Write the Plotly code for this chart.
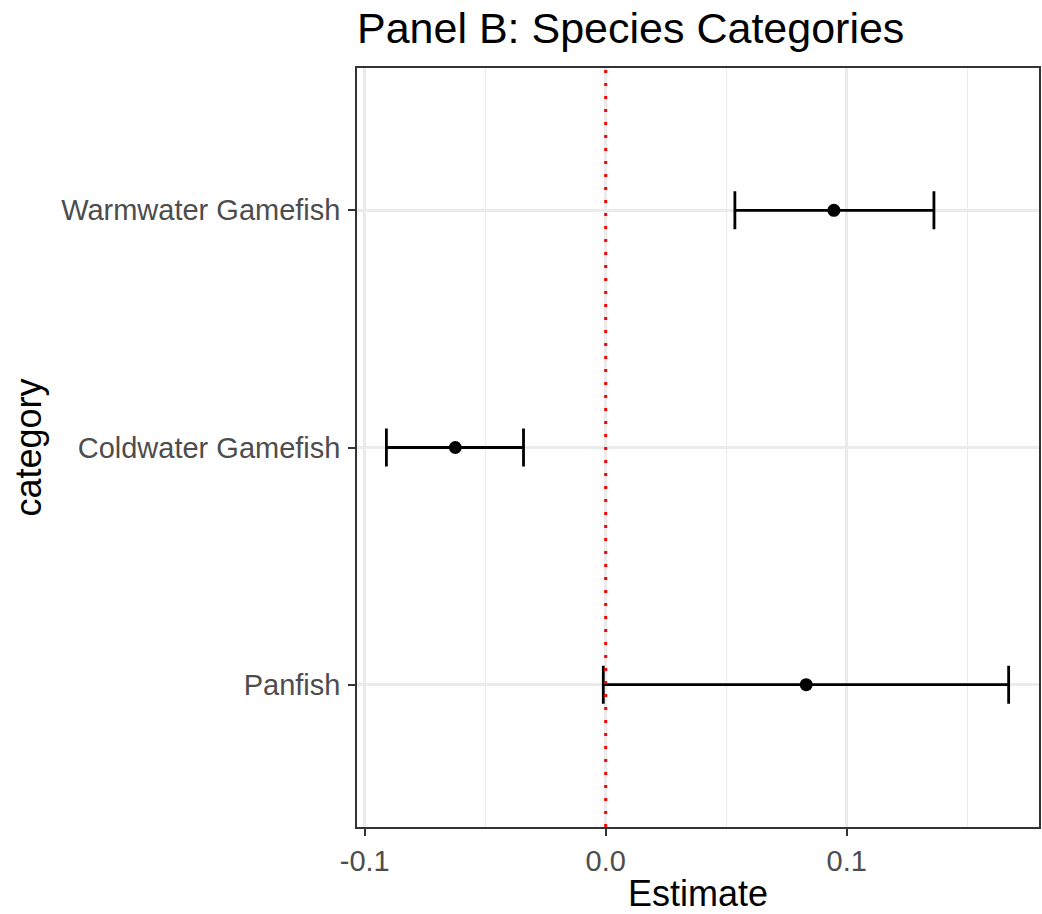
import plotly.graph_objects as go

categories = ["Panfish", "Coldwater Gamefish", "Warmwater Gamefish"]
estimates = [0.0832, -0.0624, 0.0947]
ci_low = [-0.0010, -0.0910, 0.0536]
ci_high = [0.1672, -0.0341, 0.1362]

x_ticks = [-0.1, 0.0, 0.1]
x_tick_labels = ["-0.1", "0.0", "0.1"]
x_minor = [-0.05, 0.05, 0.15]

ypos = list(range(1, len(categories) + 1))
err_plus = [h - e for h, e in zip(ci_high, estimates)]
err_minus = [e - l for e, l in zip(estimates, ci_low)]

fig = go.Figure()
fig.add_trace(go.Scatter(
    x=estimates, y=ypos, mode="markers",
    marker=dict(color="black", size=13),
    error_x=dict(type="data", symmetric=False, array=err_plus, arrayminus=err_minus,
                 color="black", thickness=2.8, width=19),
    showlegend=False, hoverinfo="x+y",
))

fig.add_shape(type="line", xref="x", yref="paper", x0=0, x1=0, y0=0, y1=1,
              line=dict(color="red", width=3, dash="3px,10px"))

axis_font = dict(family="Liberation Sans, Arial, sans-serif", size=29, color="#4d4d4d")
title_font = dict(family="Liberation Sans, Arial, sans-serif", size=36, color="black")

fig.update_layout(
    width=1042, height=914,
    margin=dict(l=357, r=1, t=68, b=87),
    plot_bgcolor="white", paper_bgcolor="white",
    title=dict(text="Panel B: Species Categories", x=357/1042, xanchor="left",
               y=1 - 28/914, yanchor="middle", yref="container",
               font=dict(family="Liberation Sans, Arial, sans-serif", size=43, color="black")),
    xaxis=dict(
        range=[-0.1032, 0.1798], tickvals=x_ticks, ticktext=x_tick_labels,
        showgrid=True, gridcolor="#ebebeb", gridwidth=2.5,
        minor=dict(tickvals=x_minor, showgrid=True, gridcolor="#ebebeb", gridwidth=1.2, ticks=""),
        zeroline=False, showline=True, mirror=True, linecolor="#333333", linewidth=1.5,
        ticks="outside", ticklen=7, tickwidth=1.5, tickcolor="#333333",
        tickfont=axis_font,
        title=dict(text="Estimate", font=title_font, standoff=10),
    ),
    yaxis=dict(
        range=[0.4, 3.6], tickvals=ypos, ticktext=categories,
        showgrid=True, gridcolor="#ebebeb", gridwidth=2.5,
        zeroline=False, showline=True, mirror=True, linecolor="#333333", linewidth=1.5,
        ticks="outside", ticklen=7, tickwidth=1.5, tickcolor="#333333",
        tickfont=axis_font, ticklabelstandoff=2,
        title=dict(text="category", font=title_font, standoff=9),
    ),
)

fig.write_html("out.html")
